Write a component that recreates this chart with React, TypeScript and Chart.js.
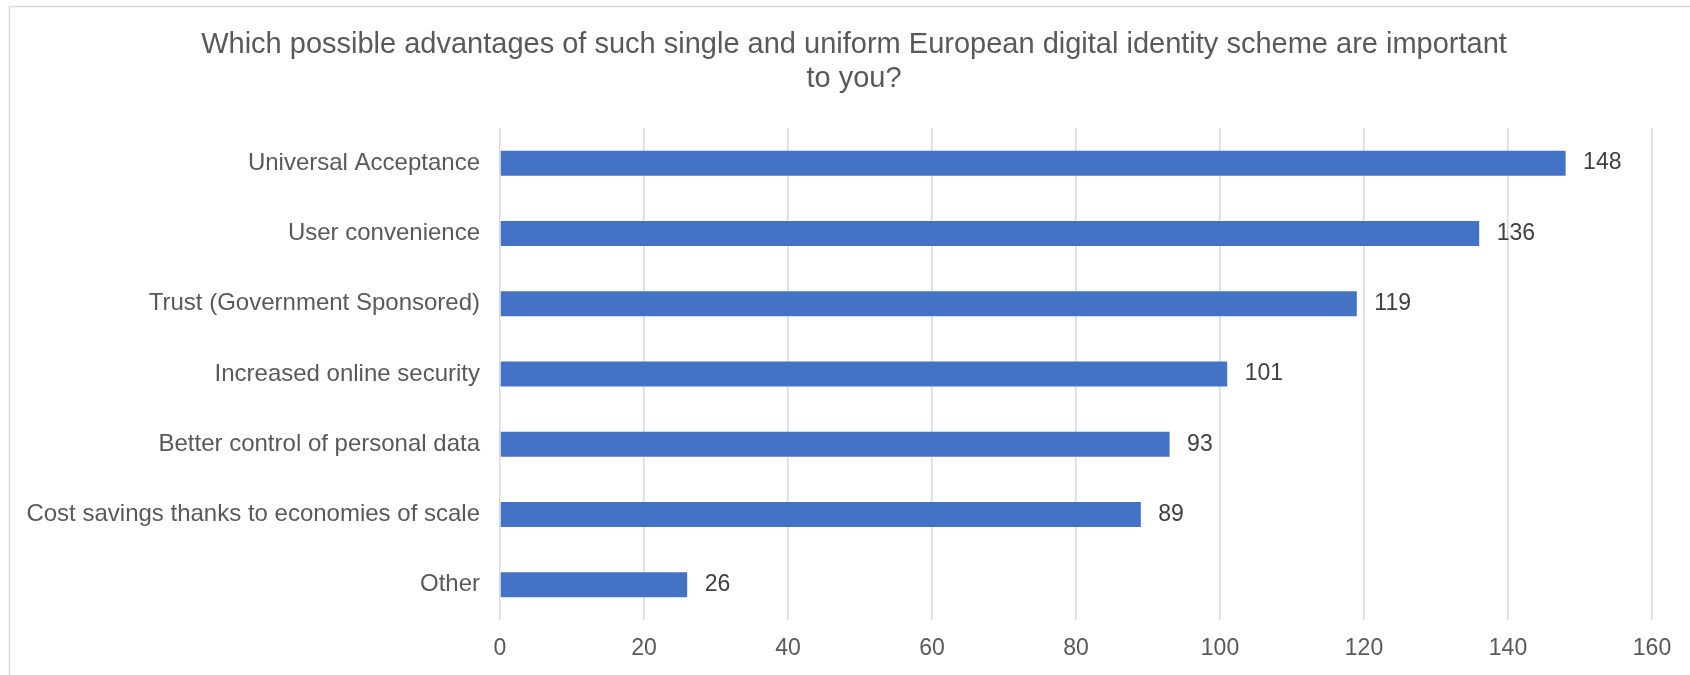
import React, { useEffect, useRef } from "react";
import { Chart, registerables } from "chart.js";

Chart.register(...registerables);

const categories: string[] = [
  "Universal Acceptance",
  "User convenience",
  "Trust (Government Sponsored)",
  "Increased online security",
  "Better control of personal data",
  "Cost savings thanks to economies of scale",
  "Other",
];
const counts: number[] = [148, 136, 119, 101, 93, 89, 26];
const xTicks: number[] = [0, 20, 40, 60, 80, 100, 120, 140, 160];
const titleLines: string[] = [
  "Which possible advantages of such single and uniform European digital identity scheme are important",
  "to you?",
];

const FONT = "'Liberation Sans', Arial, sans-serif";

export default function App() {
  const ref = useRef<HTMLCanvasElement | null>(null);

  useEffect(() => {
    document.body.style.margin = "0";
    const canvas = ref.current;
    if (!canvas) return;

    const borderPlugin = {
      id: "borderPlugin",
      beforeDraw(chart: any) {
        const ctx = chart.ctx;
        ctx.save();
        ctx.fillStyle = "#ffffff";
        ctx.fillRect(0, 0, chart.width, chart.height);
        ctx.strokeStyle = "#d9d9d9";
        ctx.lineWidth = 1.5;
        ctx.beginPath();
        ctx.moveTo(9.5, chart.height + 5);
        ctx.lineTo(9.5, 6.5);
        ctx.lineTo(chart.width + 5, 6.5);
        ctx.stroke();
        ctx.restore();
      },
    };

    const titlePlugin = {
      id: "titlePlugin",
      afterDraw(chart: any) {
        const ctx = chart.ctx;
        ctx.save();
        ctx.fillStyle = "#595959";
        ctx.font = `29px ${FONT}`;
        ctx.textAlign = "center";
        ctx.textBaseline = "alphabetic";
        const cx = 854;
        ctx.fillText(titleLines[0], cx, 53);
        ctx.fillText(titleLines[1], cx, 87);
        ctx.restore();
      },
    };

    const valueLabels = {
      id: "valueLabels",
      afterDatasetsDraw(chart: any) {
        const ctx = chart.ctx;
        const meta = chart.getDatasetMeta(0);
        ctx.save();
        ctx.fillStyle = "#404040";
        ctx.font = `23px ${FONT}`;
        ctx.textAlign = "left";
        ctx.textBaseline = "middle";
        meta.data.forEach((el: any, i: number) => {
          ctx.fillText(String(counts[i]), el.x + 17.5, el.y);
        });
        ctx.restore();
      },
    };

    const chart = new Chart(canvas, {
      type: "bar",
      data: {
        labels: categories,
        datasets: [
          {
            data: counts,
            backgroundColor: "#4472C4",
            borderWidth: 0,
            categoryPercentage: 1,
            barPercentage: 0.356,
          },
        ],
      },
      options: {
        indexAxis: "y",
        responsive: false,
        animation: false,
        events: [],
        layout: { padding: { top: 128, right: 38, bottom: 0, left: 0 } },
        plugins: {
          legend: { display: false },
          title: { display: false },
          tooltip: { enabled: false },
        },
        scales: {
          x: {
            min: 0,
            max: 160,
            afterBuildTicks(scale: any) {
              scale.ticks = xTicks.map((v) => ({ value: v }));
            },
            afterFit(scale: any) {
              scale.height = 55;
            },
            grid: {
              color: "#d9d9d9",
              lineWidth: 1.5,
              drawTicks: false,
            },
            border: { display: false },
            ticks: {
              color: "#595959",
              font: { family: FONT, size: 23 },
              padding: 15,
              maxRotation: 0,
            },
          },
          y: {
            afterFit(scale: any) {
              scale.width = 500;
            },
            grid: { display: false, drawTicks: false },
            border: { display: false },
            ticks: {
              color: "#595959",
              font: { family: FONT, size: 24 },
              padding: 20,
            },
          },
        },
      },
      plugins: [borderPlugin, titlePlugin, valueLabels],
    });

    return () => chart.destroy();
  }, []);

  return (
    <div style={{ width: 1690, height: 675, position: "relative" }}>
      <canvas ref={ref} width={1690} height={675} style={{ display: "block" }} />
    </div>
  );
}
